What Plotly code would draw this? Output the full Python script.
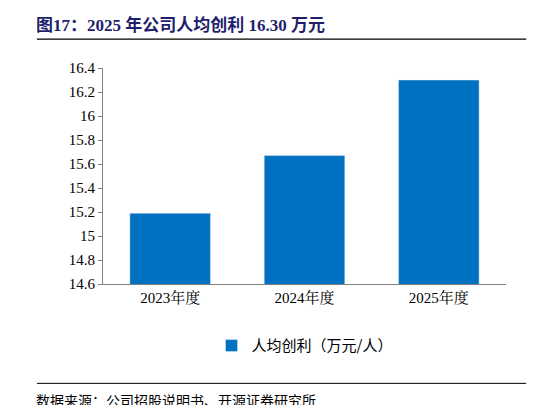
import plotly.graph_objects as go

categories = ["2023年度", "2024年度", "2025年度"]
values = [15.19, 15.67, 16.30]
series_name = "人均创利（万元/人）"

fig = go.Figure(go.Bar(x=categories, y=values, name=series_name, marker_color="#0070C0",
                       width=0.6, showlegend=True))
font = "Noto Sans CJK SC"
fig.update_layout(
    width=546, height=405, plot_bgcolor="white", paper_bgcolor="white",
    margin=dict(l=95, r=48, t=60, b=129, autoexpand=False),
    font=dict(family="Liberation Serif, Noto Serif CJK SC, " + font, size=15, color="black"),
    yaxis=dict(range=[14.6, 16.4], dtick=0.2, showgrid=False, showline=True, linecolor="#808080",
               ticks="outside", ticklen=4, tickcolor="#808080", tickformat="~g", automargin=False),
    xaxis=dict(showline=True, linecolor="#808080", ticks="", tickfont=dict(size=15), automargin=False),
    legend=dict(orientation="h", x=0.5, xanchor="center", y=-0.21, yanchor="top",
                font=dict(size=15, family=font)),
    bargap=0.4,
)
fig.add_annotation(text="<b>图17：2025 年公司人均创利 16.30 万元</b>", xref="paper", yref="paper",
                   x=-0.17, y=1.255, xanchor="left", yanchor="top", showarrow=False,
                   font=dict(size=17, color="#1F1F6E", family="Liberation Serif, " + font))
fig.add_shape(type="line", xref="paper", yref="paper", x0=-0.164, x1=1.05, y0=1.134, y1=1.134,
              line=dict(color="black", width=1.2))
fig.add_shape(type="line", xref="paper", yref="paper", x0=-0.164, x1=1.05, y0=-0.46, y1=-0.46,
              line=dict(color="black", width=1))
fig.add_annotation(text="数据来源：公司招股说明书、开源证券研究所", xref="paper", yref="paper",
                   x=-0.17, y=-0.48, xanchor="left", yanchor="top", showarrow=False,
                   font=dict(size=14, family=font))
fig.write_html("out.html")
